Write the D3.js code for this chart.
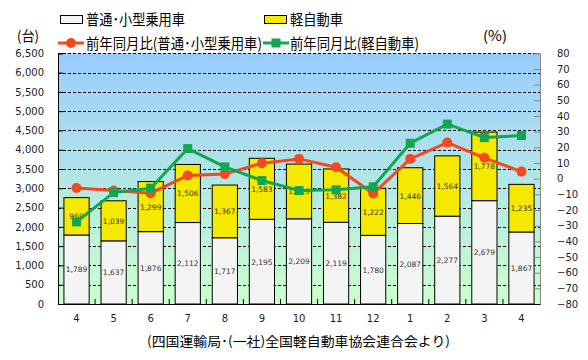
<!DOCTYPE html>
<html><head><meta charset="utf-8">
<script src="https://cdn.jsdelivr.net/npm/d3@7/dist/d3.min.js"></script>
<style>body{margin:0;background:#fff}svg{display:block}</style>
</head><body><svg id="c" width="588" height="360"></svg>
<script>
const months = ["4","5","6","7","8","9","10","11","12","1","2","3","4"];
const regular = [1789,1637,1876,2112,1717,2195,2209,2119,1780,2087,2277,2679,1867];
const kei = [969,1039,1299,1506,1367,1583,1419,1382,1222,1446,1564,1778,1235];
const regularYoY = [-6.0,-7.6,-9.3,2.0,2.9,9.9,12.6,7.3,-9.5,12.6,23.0,13.3,4.5];
const keiYoY = [-27.6,-8.9,-6.1,19.2,7.5,-1.2,-7.6,-7.1,-5.2,22.6,34.8,26.2,27.5];
const leftTicks = d3.range(0,6501,500);
const rightTicks = d3.range(-80,81,10);

const svg = d3.select("#c");
const L=58, R=540, T=53.3, B=304;
const x = d3.scaleBand().domain(d3.range(months.length)).range([L,R]).paddingInner(0.32).paddingOuter(0.16);
const y = d3.scaleLinear().domain([0,6500]).range([B,T]);
const y2 = d3.scaleLinear().domain([-80,80]).range([B,T]);

const defs = svg.append("defs");
const g = defs.append("linearGradient").attr("id","bg").attr("x1",0).attr("y1",0).attr("x2",0).attr("y2",1);
g.append("stop").attr("offset","0%").attr("stop-color","#99ccff");
g.append("stop").attr("offset","50%").attr("stop-color","#b2e6e6");
g.append("stop").attr("offset","100%").attr("stop-color","#ccffcc");
svg.append("rect").attr("x",L).attr("y",T).attr("width",R-L).attr("height",B-T).attr("fill","url(#bg)");

// gridlines
svg.append("g").selectAll("line").data(leftTicks.filter(d=>d>0)).join("line")
  .attr("x1",L).attr("x2",R).attr("y1",d=>Math.round(y(d))+0.5).attr("y2",d=>Math.round(y(d))+0.5)
  .attr("stroke","#000").attr("stroke-width",1).attr("stroke-dasharray","3,2");

// bars
const fmt = d3.format(",");
const bars = svg.append("g");
bars.selectAll("rect.r").data(regular).join("rect").attr("class","r")
  .attr("x",(d,i)=>x(i)).attr("width",x.bandwidth())
  .attr("y",d=>y(d)).attr("height",d=>B-y(d))
  .attr("fill","#f4f4f4").attr("stroke","#000").attr("stroke-width",1);
bars.selectAll("rect.k").data(kei).join("rect").attr("class","k")
  .attr("x",(d,i)=>x(i)).attr("width",x.bandwidth())
  .attr("y",(d,i)=>y(d+regular[i])).attr("height",(d,i)=>y(regular[i])-y(d+regular[i]))
  .attr("fill","#f5e900").attr("stroke","#000").attr("stroke-width",1);

// left axis
const la = d3.axisLeft(y).tickValues(leftTicks).tickSize(-5).tickFormat(fmt).tickPadding(14);
const lg = svg.append("g").attr("transform",`translate(${L},0)`).call(la);
lg.select(".domain").attr("stroke","#000");
lg.selectAll(".tick line").attr("stroke","#000");
lg.selectAll("text").attr("font-family","DejaVu Sans, Verdana, sans-serif").attr("font-size",10).attr("fill","#1a1a2a");
// right axis
const ra = d3.axisRight(y2).tickValues(rightTicks).tickSize(-6).tickPadding(17);
const rg = svg.append("g").attr("transform",`translate(${R},0)`).call(ra);
rg.select(".domain").attr("stroke","#888");
rg.selectAll(".tick line").attr("stroke","#888");
rg.selectAll("text").attr("font-family","DejaVu Sans, Verdana, sans-serif").attr("font-size",10).attr("fill","#1a1a2a");
// bottom axis
const ba = d3.axisBottom(x).tickFormat(i=>months[i]).tickSize(0).tickPadding(11);
const bg2 = svg.append("g").attr("transform",`translate(0,${B})`).call(ba);
bg2.select(".domain").attr("stroke","#000");
bg2.selectAll("text").attr("font-family","DejaVu Sans, Verdana, sans-serif").attr("font-size",10).attr("fill","#1a1a2a");
svg.append("g").selectAll("line").data(d3.range(1,months.length)).join("line")
  .attr("x1",i=>x(i)-x.step()*x.paddingInner()/2).attr("x2",i=>x(i)-x.step()*x.paddingInner()/2)
  .attr("y1",B).attr("y2",B-5).attr("stroke","#000");

// bar labels
const lab = svg.append("g").attr("font-family","DejaVu Sans, Verdana, sans-serif").attr("font-size",7.5).attr("fill","#333").attr("text-anchor","middle");
lab.selectAll("text.r").data(regular).join("text").attr("class","r")
  .attr("x",(d,i)=>x(i)+x.bandwidth()/2).attr("y",d=>y(d/2)+3).text(d=>fmt(d));
lab.selectAll("text.k").data(kei).join("text").attr("class","k")
  .attr("x",(d,i)=>x(i)+x.bandwidth()/2).attr("y",(d,i)=>y(regular[i]+d/2)+3).text(d=>fmt(d));

// lines
const cx = i=>x(i)+x.bandwidth()/2;
const red="#f5481c", green="#14a552";
const line = d3.line().x((d,i)=>cx(i)).y(d=>y2(d));
svg.append("path").datum(regularYoY).attr("d",line).attr("fill","none").attr("stroke",red).attr("stroke-width",3);
svg.append("g").selectAll("circle").data(regularYoY).join("circle")
  .attr("cx",(d,i)=>cx(i)).attr("cy",d=>y2(d)).attr("r",5).attr("fill",red);
svg.append("path").datum(keiYoY).attr("d",line).attr("fill","none").attr("stroke",green).attr("stroke-width",3);
svg.append("g").selectAll("rect").data(keiYoY).join("rect")
  .attr("x",(d,i)=>cx(i)-4.5).attr("y",d=>y2(d)-4.5).attr("width",9).attr("height",9).attr("fill",green);

// legend
const jp = "'Noto Sans CJK JP', sans-serif";
const fit = (sel,w)=>sel.attr("textLength",w).attr("lengthAdjust","spacingAndGlyphs");
const leg = svg.append("g").attr("font-family",jp).attr("font-size",15).attr("fill","#000");
leg.append("rect").attr("x",60.5).attr("y",15.5).attr("width",22).attr("height",8).attr("fill","#f4f4f4").attr("stroke","#000");
fit(leg.append("text").attr("x",86).attr("y",25).text("普通･小型乗用車"),99);
leg.append("rect").attr("x",264.5).attr("y",15.5).attr("width",22).attr("height",8).attr("fill","#f5e900").attr("stroke","#000");
fit(leg.append("text").attr("x",290).attr("y",25).text("軽自動車"),53);
leg.append("line").attr("x1",58).attr("x2",84).attr("y1",43).attr("y2",43).attr("stroke",red).attr("stroke-width",3);
leg.append("circle").attr("cx",71).attr("cy",43).attr("r",5).attr("fill",red);
fit(leg.append("text").attr("x",86).attr("y",49).text("前年同月比(普通･小型乗用車)"),176);
leg.append("line").attr("x1",263).attr("x2",289).attr("y1",43).attr("y2",43).attr("stroke",green).attr("stroke-width",3);
leg.append("rect").attr("x",271.5).attr("y",38.5).attr("width",9).attr("height",9).attr("fill",green);
fit(leg.append("text").attr("x",290).attr("y",49).text("前年同月比(軽自動車)"),129);

fit(svg.append("text").attr("x",17).attr("y",41).attr("font-family",jp).attr("font-size",14).text("(台)"),22);
fit(svg.append("text").attr("x",483).attr("y",41).attr("font-family",jp).attr("font-size",14).text("(%)"),24);
fit(svg.append("text").attr("x",147).attr("y",346).attr("font-family",jp).attr("font-size",13).text("(四国運輸局･(一社)全国軽自動車協会連合会より)"),303);
</script></body></html>
